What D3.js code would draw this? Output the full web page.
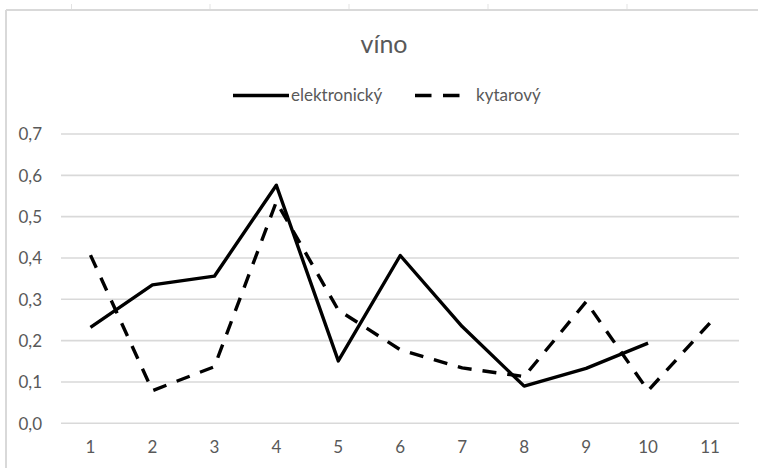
<!DOCTYPE html>
<html>
<head>
<meta charset="utf-8">
<script src="https://cdn.jsdelivr.net/npm/d3@7"></script>
<style>
  html, body { margin: 0; padding: 0; background: #fff; }
  svg { display: block; }
  text { font-family: Lato, "Open Sans", "Liberation Sans", sans-serif; fill: #595959; }
</style>
</head>
<body>
<svg id="chart" width="758" height="468"></svg>
<script>
const categories = ["1","2","3","4","5","6","7","8","9","10","11"];
const elektronicky = [0.232, 0.335, 0.356, 0.576, 0.151, 0.406, 0.234, 0.090, 0.133, 0.194, null];
const kytarovy = [0.407, 0.079, 0.137, 0.536, 0.274, 0.178, 0.134, 0.113, 0.294, 0.079, 0.243];
const yTicks = [0, 0.1, 0.2, 0.3, 0.4, 0.5, 0.6, 0.7];
const seriesNames = ["elektronický", "kytarový"];
const title = "víno";

const svg = d3.select("#chart");
const W = 758, H = 468;

// chart frame (partially visible)
const frame = svg.append("g");
frame.append("line").attr("x1", 6).attr("x2", W + 5).attr("y1", 10).attr("y2", 10)
  .attr("stroke", "#d9d9d9").attr("stroke-width", 2);
frame.append("line").attr("x1", 6).attr("x2", 6).attr("y1", 10).attr("y2", H + 5)
  .attr("stroke", "#d9d9d9").attr("stroke-width", 2);
[71.5, 210, 349, 488, 627].forEach(x => {
  frame.append("line").attr("x1", x).attr("x2", x).attr("y1", 4).attr("y2", 9)
    .attr("stroke", "#e3e3e3").attr("stroke-width", 1);
});

const x = d3.scaleBand().domain(categories).range([59.5, 741]);
const y = d3.scaleLinear().domain([0, 0.7]).range([423.3, 134]);
const fmt = v => d3.format(".1f")(v).replace(".", ",");

// gridlines
svg.append("g").selectAll("line").data(yTicks).join("line")
  .attr("x1", 61).attr("x2", 739)
  .attr("y1", d => y(d)).attr("y2", d => y(d))
  .attr("stroke", "#d9d9d9").attr("stroke-width", 1.6);

// y axis labels
const yAxis = d3.axisLeft(y).tickValues(yTicks).tickFormat(fmt).tickSize(0).tickPadding(0);
const gy = svg.append("g").attr("transform", "translate(42,0)").call(yAxis);
gy.select(".domain").remove();
gy.selectAll("text").style("font-size", "17px").attr("fill", "#595959")
  .attr("font-family", null).attr("dy", "0.35em");

// x axis labels
const xAxis = d3.axisBottom(x).tickSize(0).tickPadding(0);
const gx = svg.append("g").attr("transform", "translate(0,441)").call(xAxis);
gx.select(".domain").remove();
gx.selectAll("text").style("font-size", "17px").attr("fill", "#595959")
  .attr("font-family", null).attr("dy", "0.71em");

const cx = (d, i) => x(categories[i]) + x.bandwidth() / 2;
const line = d3.line().defined(d => d !== null).x(cx).y(d => y(d));

svg.append("path").datum(kytarovy).attr("d", line)
  .attr("fill", "none").attr("stroke", "#000").attr("stroke-width", 3.4)
  .attr("stroke-dasharray", "14,11").attr("stroke-linejoin", "round");

svg.append("path").datum(elektronicky).attr("d", line)
  .attr("fill", "none").attr("stroke", "#000").attr("stroke-width", 3.4)
  .attr("stroke-linejoin", "round");

// title
svg.append("text").attr("x", 384).attr("y", 53).attr("text-anchor", "middle")
  .style("font-size", "25px").text(title);

// legend
const lg = svg.append("g");
lg.append("line").attr("x1", 233).attr("x2", 289).attr("y1", 95.5).attr("y2", 95.5)
  .attr("stroke", "#000").attr("stroke-width", 3.6);
lg.append("text").attr("x", 291).attr("y", 95.5).attr("dy", "0.35em")
  .style("font-size", "17px").text(seriesNames[0]);
lg.append("line").attr("x1", 415).attr("x2", 460).attr("y1", 95.5).attr("y2", 95.5)
  .attr("stroke", "#000").attr("stroke-width", 3.6).attr("stroke-dasharray", "16.5,11.5");
lg.append("text").attr("x", 476).attr("y", 95.5).attr("dy", "0.35em")
  .style("font-size", "17px").text(seriesNames[1]);
</script>
</body>
</html>
